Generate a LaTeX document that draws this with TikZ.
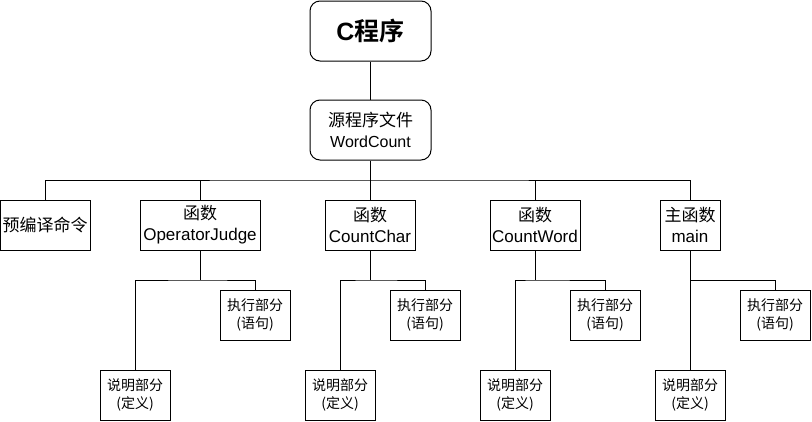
\documentclass[tikz,border=0pt]{standalone}
\usepackage{fontspec}
\setmainfont{Liberation Sans}
\newfontfamily\cjk{Noto Sans CJK SC}[BoldFont={Noto Sans CJK SC Bold}]
\usetikzlibrary{positioning}

\begin{document}
\begin{tikzpicture}[x=1pt,y=-1pt,line width=1pt,
  box/.style={draw,align=center,inner sep=0pt,minimum height=50pt,font=\fontsize{17}{21}\selectfont},
  topbox/.style={box,rounded corners=10pt,minimum width=121pt,minimum height=60pt},
  part/.style={draw,align=center,inner sep=0pt,minimum width=70pt,minimum height=50pt,font=\cjk\fontsize{14}{18}\selectfont}]
\useasboundingbox (0,0) rectangle (812,421);

\node[topbox,font=\bfseries\fontsize{25}{30}\selectfont] (prog) at (370.5,31) {C{\cjk 程序}};
\node[topbox] (src) at (370.5,130) {{\cjk 源程序文件}\\{\fontsize{16}{21}\selectfont WordCount}};

\node[box,minimum width=90pt] (pre) at (45,225) {\cjk 预编译命令};
\node[box,minimum width=120pt] (oj) at (200,225) {{\cjk 函数}\\OperatorJudge};
\node[box,minimum width=90pt] (cc) at (370,225) {{\cjk 函数}\\CountChar};
\node[box,minimum width=90pt] (cw) at (535,225) {{\cjk 函数}\\CountWord};
\node[box,minimum width=60pt] (mf) at (690,225) {{\cjk 主函数}\\main};

\coordinate (bus) at (370.5,180);
\draw (prog) -- (src);
\draw (src.south) -- (bus);
\draw (pre.north) |- (bus) -| (mf.north);
\foreach \f in {oj,cc,cw}
  \draw (\f.north) -- (\f.north |- bus);

\foreach \f/\fx/\dx/\ex in {oj/200/135/255, cc/370/340/425, cw/535/515/605, mf/690/690/775} {
  \node[part] (\f-exe) at (\ex,315) {执行部分\\(语句)};
  \node[part] (\f-def) at (\dx,395) {说明部分\\(定义)};
  \coordinate (\f-j) at (\fx,280);
  \draw (\f.south) -- (\f-j);
  \draw (\f-def.north) |- (\f-j) -| (\f-exe.north);
}
\end{tikzpicture}
\end{document}
